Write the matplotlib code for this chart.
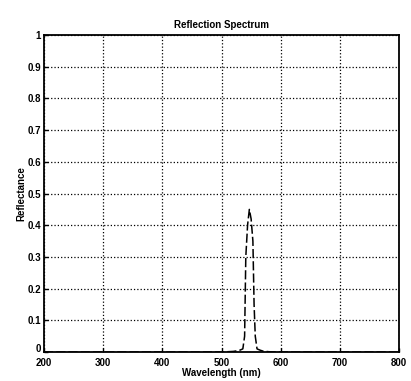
import matplotlib
matplotlib.use("Agg")
import matplotlib.pyplot as plt
import matplotlib.transforms as mtransforms

wavelength = [200, 300, 400, 500, 520, 530, 536, 539, 541, 544, 547, 550, 553, 555, 557, 560, 565, 570, 580, 600, 700, 800]
reflectance = [0, 0, 0, 0, 0.002, 0.005, 0.01, 0.05, 0.30, 0.40, 0.45, 0.42, 0.35, 0.15, 0.05, 0.01, 0.006, 0.003, 0.001, 0, 0, 0]
xticks = [200, 300, 400, 500, 600, 700, 800]
yticks = [0, 0.1, 0.2, 0.3, 0.4, 0.5, 0.6, 0.7, 0.8, 0.9, 1]
yticklabels = ["0", "0.1", "0.2", "0.3", "0.4", "0.5", "0.6", "0.7", "0.8", "0.9", "1"]

plt.rcParams['font.family'] = ['Liberation Sans', 'DejaVu Sans']
plt.rcParams['font.weight'] = 'bold'

fig = plt.figure(figsize=(4.11, 3.81), dpi=100)
ax = fig.add_axes([0.107, 0.076, 0.864, 0.832])
ax.plot(wavelength, reflectance, color='black', linestyle=(0, (6, 2)), linewidth=1.1)
ax.set_xlim(200, 800)
ax.set_ylim(0, 1)
ax.set_xticks(xticks)
ax.set_xticklabels([str(t) for t in xticks])
ax.set_yticks(yticks)
ax.set_yticklabels(yticklabels)
ax.grid(True, color='black', linestyle=':', linewidth=0.9)
ax.tick_params(direction='in', length=3, labelsize=7, pad=2, width=1)
ax.tick_params(axis='x', pad=4)
for s in ax.spines.values():
    s.set_linewidth(1.3)
# nudge the "0" y label up a little so it does not collide with "200"
lbl0 = ax.get_yticklabels()[0]
lbl0.set_transform(lbl0.get_transform() + mtransforms.ScaledTranslation(0, 3 / 72, fig.dpi_scale_trans))
ax.set_title("Reflection Spectrum", fontsize=7, fontweight='bold', pad=5)
ax.set_xlabel("Wavelength (nm)", fontsize=7, fontweight='bold', labelpad=0)
ax.set_ylabel("Reflectance", fontsize=7, fontweight='bold', labelpad=1)
fig.savefig("out.png", dpi=100)
